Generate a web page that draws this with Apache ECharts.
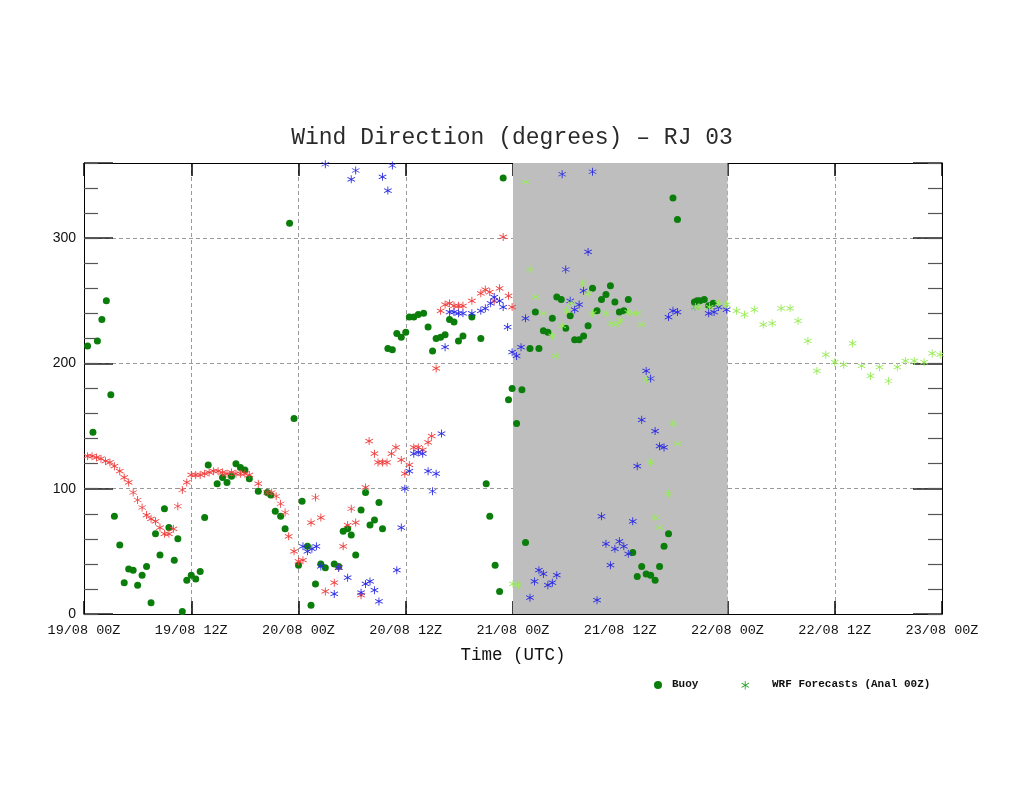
<!DOCTYPE html>
<html>
<head>
<meta charset="utf-8">
<script src="https://cdn.jsdelivr.net/npm/echarts@6/dist/echarts.min.js"></script>
<style>
html,body{margin:0;padding:0;background:#fff;}
#chart{width:1024px;height:791px;}
</style>
</head>
<body>
<div id="chart"></div>
<script>
// Hours since 19/08 00Z, wind direction in degrees
const tickLabels = ['19/08 00Z','19/08 12Z','20/08 00Z','20/08 12Z','21/08 00Z','21/08 12Z','22/08 00Z','22/08 12Z','23/08 00Z'];
const yTickLabels = [0, 100, 200, 300];

const buoy = [
[0.4,214],[1.0,145],[1.5,218],[2.0,235],[2.5,250],[3.0,175],[3.4,78],[4.0,55],[4.5,25],[5.0,36],
[5.5,35],[6.0,23],[6.5,31],[7.0,38],[7.5,9],[8.0,64],[8.5,47],[9.0,84],[9.5,69],[10.1,43],
[10.5,60],[11.0,2],[11.5,27],[12.0,31],[12.5,28],[13.0,34],[13.5,77],[13.9,119],[14.9,104],[15.5,109],
[16.0,105],[16.5,110],[17.0,120],[17.5,117],[18.0,115],[18.5,108],[19.5,98],[20.5,97],[20.9,95],[21.4,82],
[22.0,78],[22.5,68],[23.0,312],[23.5,156],[24.0,39],[24.4,90],[25.0,54],[25.4,7],[25.9,24],[26.5,40],
[27.0,37],[28.0,40],[28.5,38],[29.0,66],[29.5,68],[29.9,63],[30.4,47],[31.0,83],[31.5,97],[32.0,71],
[32.5,75],[33.0,89],[33.4,68],[34.0,212],[34.5,211],[35.0,224],[35.5,221],[36.0,225],[36.4,237],[36.9,237],
[37.4,239],[38.0,240],[38.5,229],[39.0,210],[39.4,220],[39.9,221],[40.4,223],[40.9,235],[41.4,233],[41.9,218],
[42.4,222],[43.4,237],[44.4,220],[45.0,104],[45.4,78],[46.0,39],[46.5,18],[46.9,348],[47.5,171],[47.9,180],
[48.4,152],[49.0,179],[49.4,57],[49.9,212],[50.5,241],[50.9,212],[51.4,226],[51.9,225],[52.4,236],[52.9,253],
[53.4,251],[53.9,228],[54.4,238],[54.9,219],[55.4,219],[55.9,222],[56.4,230],[56.9,260],[57.4,242],[57.9,251],
[58.4,255],[58.9,262],[59.4,249],[59.9,241],[60.4,242],[60.9,251],[61.4,49],[61.9,30],[62.4,38],[62.9,32],
[63.4,31],[63.9,27],[64.4,38],[64.9,54],[65.4,64],[65.9,332],[66.4,315],[68.3,249],[68.6,250],[68.9,250],
[69.4,251],[69.9,246],[70.4,248]
];

const wrfRun19 = [
[0.4,126],[0.9,126],[1.4,125],[1.9,124],[2.4,122],[2.9,121],[3.4,118],[4.0,114],[4.5,109],[5.0,105],
[5.5,97],[6.0,91],[6.5,85],[7.0,79],[7.5,76],[8.0,74],[8.5,69],[9.0,64],[9.5,64],[10.0,68],
[10.5,86],[11.0,99],[11.5,105],[12.0,111],[12.5,111],[13.0,111],[13.5,112],[14.0,113],[14.5,114],[15.0,114],
[15.5,113],[16.0,112],[16.5,113],[17.0,112],[17.5,112],[18.0,112],[18.5,111],[19.5,104],[20.5,97],[21.0,97],
[21.5,94],[22.0,88],[22.5,81],[22.9,62],[23.5,50],[24.0,42],[24.5,43],[25.4,73],[25.9,93],[26.5,77],
[27.0,18],[28.0,25],[28.5,37],[29.0,54],[29.5,71],[29.9,84],[30.4,73],[31.0,15],[31.5,101],[31.9,138],
[32.5,128],[32.9,121],[33.4,121],[33.9,121],[34.4,128],[34.9,133],[35.5,123],[35.9,112],[36.4,119],[36.9,133],
[37.4,133],[37.9,131],[38.5,137],[38.9,142],[39.4,196],[39.9,242],[40.4,247],[40.9,248],[41.4,246],[41.9,246],
[42.4,246],[43.4,250],[44.4,256],[44.9,259],[45.4,257],[45.9,250],[46.5,260],[46.9,301],[47.5,254],[47.9,245]
];

const wrfRun20 = [
[24.5,54],[25.0,50],[25.5,52],[26.0,54],[26.5,38],[27.0,359],[28.0,16],[28.5,37],[29.5,29],[29.9,347],
[30.4,354],[31.0,17],[31.5,24],[32.0,26],[32.5,19],[33.0,10],[33.4,349],[34.0,338],[34.5,358],[35.0,35],
[35.5,69],[35.9,100],[36.4,114],[36.9,128],[37.4,129],[37.9,128],[38.5,114],[39.0,98],[39.4,112],[40.0,144],
[40.4,213],[40.9,241],[41.4,241],[41.9,240],[42.4,240],[43.4,240],[44.4,242],[44.9,244],[45.5,248],[45.9,253],
[46.5,250],[46.9,245],[47.4,229],[47.9,209],[48.4,206],[48.9,213],[49.4,236],[49.9,13],[50.4,26],[50.9,35],
[51.4,32],[51.9,23],[52.4,25],[52.9,31],[53.5,351],[53.9,275],[54.4,250],[54.9,243],[55.4,247],[55.9,258],
[56.4,289],[56.9,353],[57.4,11],[57.9,78],[58.4,56],[58.9,39],[59.4,52],[59.9,58],[60.4,54],[60.9,48],
[61.4,74],[61.9,118],[62.4,155],[62.9,194],[63.4,188],[63.9,146],[64.4,134],[64.9,133],[65.4,237],[65.9,242],
[66.4,241],[68.4,245],[69.9,240],[70.5,241],[71.0,245],[71.9,243]
];

const wrfRun21 = [
[48.0,24],[48.6,23],[49.4,345],[49.9,275],[50.5,253],[51.4,240],[52.4,222],[52.8,206],[53.5,230],[54.0,242],
[54.5,248],[55.8,264],[56.4,256],[56.9,240],[58.4,240],[59.0,232],[59.5,231],[60.0,234],[60.9,241],[61.5,240],
[61.9,240],[62.4,231],[62.9,187],[63.4,121],[63.9,77],[64.4,69],[65.4,96],[65.9,152],[66.4,136],[68.4,245],
[68.8,245],[70.0,245],[71.0,248],[71.9,247],[73.0,242],[73.9,239],[75.0,243],[76.0,231],[77.0,232],[78.0,244],
[79.0,244],[79.9,234],[81.0,218],[82.0,194],[83.0,207],[84.0,201],[85.0,199],[86.0,216],[87.0,198],[88.0,190],
[89.0,197],[90.0,186],[91.0,197],[91.9,202],[92.9,202],[94.0,201],[94.9,208],[95.8,207]
];

const shadedPeriod = [48, 72];

// asterisk marker: three thin bars (20x20 design box)
const STAR_POLYS = [
  [[9,0],[11,0],[11,20],[9,20]],
  [[1.84,4.13],[19.16,14.13],[18.16,15.87],[0.84,5.87]],
  [[0.84,14.13],[18.16,4.13],[19.16,5.87],[1.84,15.87]]
];
const STAR = 'path://' + STAR_POLYS.map(p => 'M' + p.map(q => q[0] + ' ' + q[1]).join('L') + 'Z').join(' ');

const chart = echarts.init(document.getElementById('chart'), null, {renderer: 'canvas'});

const monoFont = "'Liberation Mono', 'DejaVu Sans Mono', monospace";

function xAxisCfg(pos, withLabels) {
  return {
    type: 'value', position: pos, min: 0, max: 96, interval: 12,
    axisLine: {show: true, onZero: false, lineStyle: {color: '#000', width: 1}},
    axisTick: {show: true, inside: true, length: 13, lineStyle: {color: '#000', width: 1.5}},
    axisLabel: withLabels ? {
      show: true, margin: 9, color: '#111', fontFamily: monoFont, fontSize: 13.5,
      formatter: v => tickLabels[Math.round(v / 12)] || ''
    } : {show: false},
    splitLine: withLabels ? {show: true, showMinLine: false, showMaxLine: false,
      lineStyle: {color: '#9a9a9a', type: [4, 3], width: 1}} : {show: false},
    name: withLabels ? 'Time (UTC)' : '',
    nameLocation: 'middle', nameGap: 32,
    nameTextStyle: {fontFamily: monoFont, fontSize: 17.5, color: '#111'}
  };
}

function yMajor(pos, withLabels) {
  return {
    type: 'value', position: pos, min: 0, max: 360, interval: 100,
    axisLine: {show: true, onZero: false, lineStyle: {color: '#000', width: 1}},
    axisTick: {show: true, inside: true, length: 29, lineStyle: {color: '#222', width: 1.5}},
    axisLabel: withLabels ? {
      show: true, margin: 8, color: '#111', fontFamily: "'Liberation Sans', Arial, sans-serif", fontSize: 14,
      formatter: v => (yTickLabels.indexOf(v) >= 0 ? String(v) : '')
    } : {show: false},
    splitLine: withLabels ? {show: true, showMinLine: false, showMaxLine: false,
      lineStyle: {color: '#9a9a9a', type: [4, 3], width: 1}} : {show: false}
  };
}

function yMinor(pos) {
  return {
    type: 'value', position: pos, min: 0, max: 360, interval: 20,
    axisLine: {show: false, onZero: false},
    axisTick: {show: true, inside: true, length: 14, lineStyle: {color: '#555', width: 1.2}},
    axisLabel: {show: false},
    splitLine: {show: false}
  };
}

function scatter(name, data, color, symbol, size) {
  return {
    name: name, type: 'scatter', data: data, xAxisIndex: 0, yAxisIndex: 0,
    symbol: symbol, symbolSize: size,
    itemStyle: {color: color, opacity: 1},
    emphasis: {disabled: true}, animation: false
  };
}

const legendStar = STAR_POLYS.map(p => ({
  type: 'polygon',
  shape: {points: p.map(q => [741 + q[0] * 0.42, 681 + q[1] * 0.42])},
  style: {fill: '#22a022'}
}));

const option = {
  backgroundColor: '#fff',
  animation: false,
  title: {
    text: 'Wind Direction (degrees) \u2013 RJ 03',
    left: 'center', top: 121,
    textStyle: {fontFamily: monoFont, fontSize: 23, fontWeight: 'normal', color: '#2a2a2a'}
  },
  grid: {left: 84, right: 82, top: 163, bottom: 177},
  xAxis: [xAxisCfg('bottom', true), xAxisCfg('top', false)],
  yAxis: [yMajor('left', true), yMinor('left'), yMajor('right', false), yMinor('right')],
  series: [
    {
      type: 'scatter', data: [], xAxisIndex: 0, yAxisIndex: 0, z: -1, silent: true,
      markArea: {
        silent: true,
        itemStyle: {color: '#bebebe', opacity: 1},
        data: [[{xAxis: shadedPeriod[0]}, {xAxis: shadedPeriod[1]}]]
      }
    },
    scatter('Buoy', buoy, '#0b7d0b', 'circle', 7),
    scatter('WRF 19/08 00Z', wrfRun19, '#f03c3c', STAR, 8),
    scatter('WRF 20/08 00Z', wrfRun20, '#2a2ae6', STAR, 8),
    scatter('WRF 21/08 00Z', wrfRun21, '#98ec58', STAR, 8)
  ],
  graphic: [
    {type: 'circle', shape: {cx: 658, cy: 685, r: 4}, style: {fill: '#0b7d0b'}},
    {type: 'text', x: 672, y: 679, style: {text: 'Buoy', font: "bold 11px 'Liberation Mono', monospace", fill: '#111'}},
    {type: 'text', x: 772, y: 679, style: {text: 'WRF Forecasts (Anal 00Z)', font: "bold 11px 'Liberation Mono', monospace", fill: '#111'}}
  ].concat(legendStar)
};

chart.setOption(option);
</script>
</body>
</html>
